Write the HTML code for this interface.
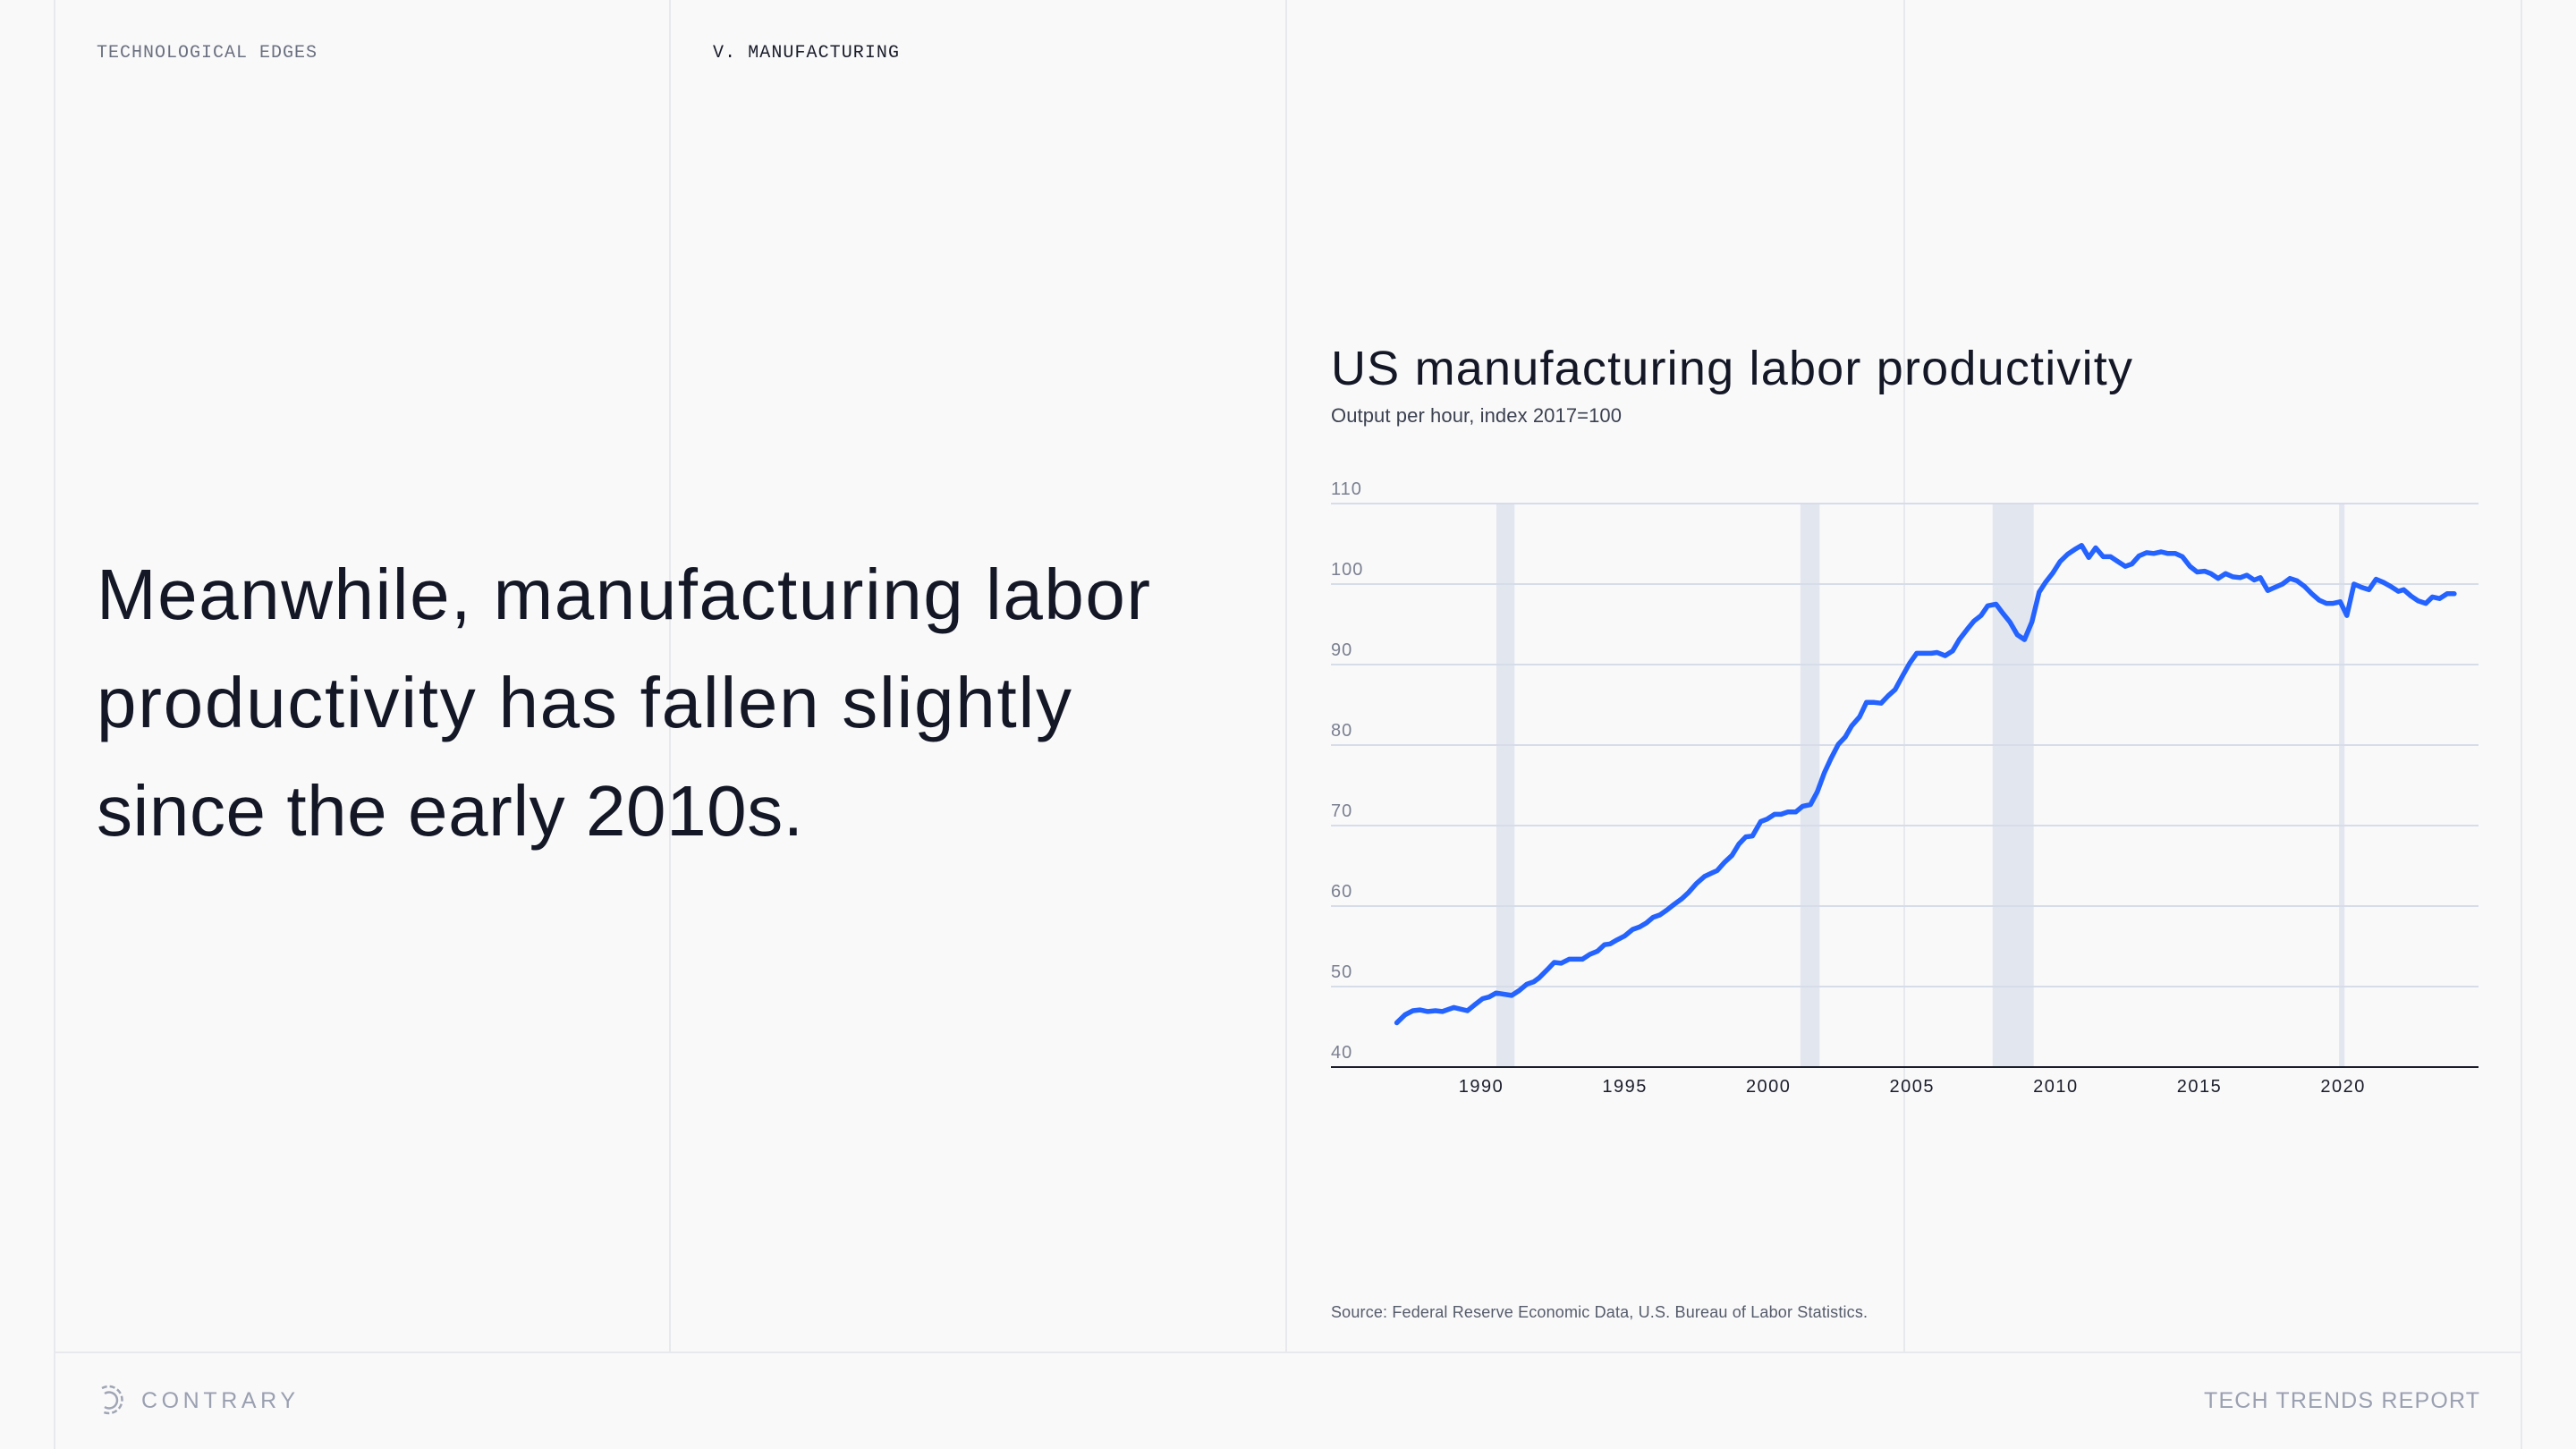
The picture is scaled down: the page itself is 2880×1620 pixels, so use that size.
<!DOCTYPE html>
<html><head><meta charset="utf-8"><style>
html,body{margin:0;padding:0;background:#f9f9fa;}
svg{display:block;font-family:"Liberation Sans",sans-serif;}
</style></head><body>
<svg id="page" width="2880" height="1620" viewBox="0 0 2880 1620">
<rect x="0" y="0" width="2880" height="1620" fill="#f9f9fa"/>
<g stroke="#e8e9ec" stroke-width="2">
<line x1="61" y1="0" x2="61" y2="1620"/><line x1="749" y1="0" x2="749" y2="1512"/>
<line x1="1438" y1="0" x2="1438" y2="1512"/><line x1="2129" y1="0" x2="2129" y2="1512"/>
<line x1="2819" y1="0" x2="2819" y2="1620"/><line x1="61" y1="1512" x2="2819" y2="1512"/>
</g>
<text x="108" y="64" font-family="Liberation Mono, monospace" font-size="20" fill="#6b7080" textLength="246">TECHNOLOGICAL EDGES</text>
<text x="797" y="64" font-family="Liberation Mono, monospace" font-size="20" fill="#1a1d2a" textLength="208">V. MANUFACTURING</text>
<g fill="#141826" font-size="80">
<text x="108" y="692" textLength="1178">Meanwhile, manufacturing labor</text>
<text x="108" y="813" textLength="1090">productivity has fallen slightly</text>
<text x="108" y="934" textLength="790">since the early 2010s.</text>
</g>
<text x="1488" y="430" font-size="54" fill="#141826" textLength="896">US manufacturing labor productivity</text>
<text x="1488" y="472" font-size="22" fill="#3c4150" textLength="325">Output per hour, index 2017=100</text>
<g id="chart"></g>
<text x="1488" y="1473" font-size="18" fill="#555b6a" textLength="600">Source: Federal Reserve Economic Data, U.S. Bureau of Labor Statistics.</text>
<g fill="none" stroke="#a0a5b5" stroke-width="2.5">
<path d="M114,1552 A15,15 0 1 1 114,1578" stroke-dasharray="6 3"/>
<path d="M117,1558 A9,9 0 1 1 117,1573"/>
</g>
<text x="158" y="1574" font-size="25" fill="#9aa0b0" textLength="172">CONTRARY</text>
<text x="2464" y="1574" font-size="25" fill="#9aa0b0" textLength="308">TECH TRENDS REPORT</text>
</svg>
<script>
const years=[1987.06,1987.35,1987.62,1987.86,1988.14,1988.41,1988.65,1989.05,1989.52,1989.76,1990.05,1990.27,1990.52,1991.06,1991.32,1991.59,1991.83,1992.02,1992.30,1992.54,1992.78,1993.06,1993.52,1993.78,1994.05,1994.29,1994.49,1994.73,1995.00,1995.27,1995.51,1995.75,1995.98,1996.22,1996.46,1996.71,1996.98,1997.22,1997.49,1997.78,1998.02,1998.21,1998.46,1998.73,1998.97,1999.21,1999.44,1999.73,1999.95,2000.21,2000.44,2000.68,2000.95,2001.19,2001.46,2001.70,2001.95,2002.17,2002.43,2002.67,2002.90,2003.17,2003.41,2003.68,2003.92,2004.16,2004.41,2004.65,2004.92,2005.16,2005.43,2005.67,2005.87,2006.15,2006.41,2006.64,2006.92,2007.15,2007.40,2007.63,2007.92,2008.15,2008.40,2008.66,2008.91,2009.17,2009.42,2009.64,2009.90,2010.15,2010.41,2010.66,2010.90,2011.15,2011.39,2011.65,2011.91,2012.16,2012.42,2012.65,2012.90,2013.16,2013.41,2013.67,2013.90,2014.16,2014.41,2014.67,2014.92,2015.18,2015.40,2015.65,2015.91,2016.16,2016.42,2016.65,2016.91,2017.12,2017.38,2017.63,2017.89,2018.15,2018.40,2018.66,2018.91,2019.17,2019.42,2019.65,2019.90,2020.13,2020.38,2020.64,2020.90,2021.15,2021.41,2021.66,2021.92,2022.11,2022.37,2022.62,2022.88,2023.11,2023.36,2023.62,2023.87];
const values=[45.5,46.5,47.0,47.1,46.9,47.0,46.9,47.4,47.0,47.7,48.5,48.7,49.2,48.9,49.5,50.3,50.6,51.1,52.1,53.0,52.9,53.4,53.4,54.0,54.4,55.2,55.3,55.8,56.3,57.1,57.4,57.9,58.6,58.9,59.5,60.2,60.9,61.7,62.8,63.7,64.1,64.4,65.4,66.3,67.7,68.6,68.7,70.5,70.8,71.4,71.4,71.7,71.7,72.4,72.6,74.2,76.6,78.3,80.1,81.0,82.4,83.5,85.3,85.3,85.2,86.1,86.9,88.5,90.2,91.4,91.4,91.4,91.5,91.1,91.7,93.1,94.4,95.4,96.1,97.3,97.5,96.4,95.3,93.7,93.1,95.3,99.0,100.2,101.4,102.8,103.7,104.3,104.8,103.3,104.5,103.4,103.4,102.8,102.2,102.5,103.5,103.9,103.8,104.0,103.8,103.8,103.4,102.2,101.5,101.6,101.3,100.7,101.3,100.9,100.8,101.1,100.5,100.8,99.2,99.6,100.0,100.7,100.4,99.7,98.8,98.0,97.6,97.6,97.8,96.1,100.0,99.6,99.3,100.6,100.2,99.7,99.1,99.3,98.5,97.9,97.6,98.4,98.2,98.8,98.8];
const yTicks=[40,50,60,70,80,90,100,110];
const xTicks=[1990,1995,2000,2005,2010,2015,2020];
const recessionStarts=[1990.53,2001.11,2007.8,2019.86];
const recessionEnds=[1991.16,2001.78,2009.23,2020.05];

const NS="http://www.w3.org/2000/svg";
const L=1488,R=2771,T=563,B=1193;
function xs(y){return 1656+(y-1990)*32.12;}
function ys(v){return B-(v-40)*(B-T)/70;}
const g=document.getElementById('chart');
function mk(tag,attrs){const e=document.createElementNS(NS,tag);for(const k in attrs)e.setAttribute(k,attrs[k]);g.appendChild(e);return e;}
for(let i=0;i<recessionStarts.length;i++){
  const r=mk('rect',{x:xs(recessionStarts[i]),y:T,width:xs(recessionEnds[i])-xs(recessionStarts[i]),height:B-T,fill:'#e1e6ef'});
  
  
}
yTicks.forEach(v=>{
  if(v>40){const l=mk('line',{x1:L,x2:R,y1:ys(v),y2:ys(v),stroke:'#d6dce8','stroke-width':2});
  
  }
  const t=mk('text',{x:L,y:ys(v)-10,'font-size':20,fill:'#7b8090','letter-spacing':1});
  t.textContent=v;
  
  
});
const ax=mk('line',{x1:L,x2:R,y1:B,y2:B,stroke:'#1a1d2a','stroke-width':2});


xTicks.forEach(yr=>{
  const t=mk('text',{x:xs(yr),y:1221,'font-size':20,fill:'#1a1d2a','text-anchor':'middle','letter-spacing':1.5});
  t.textContent=yr;
  
  
});
const d=years.map((y,i)=>(i?'L':'M')+xs(y).toFixed(1)+','+ys(values[i]).toFixed(1)).join(' ');
const p=mk('path',{d:d,fill:'none',stroke:'#2563ff','stroke-width':5.5,'stroke-linejoin':'round','stroke-linecap':'round'});


</script>
</body></html>
